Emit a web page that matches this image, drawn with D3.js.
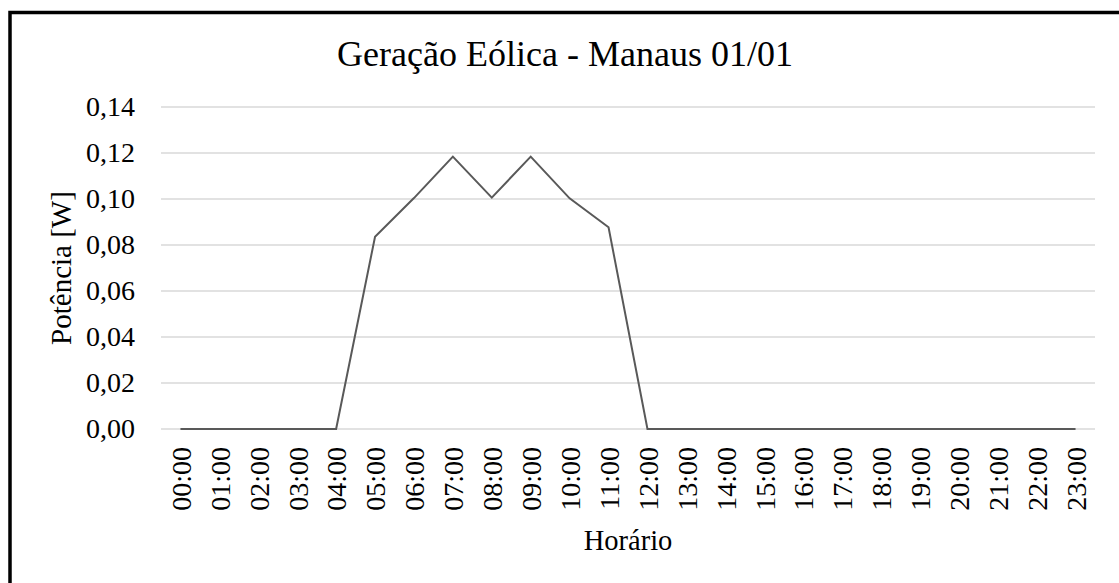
<!DOCTYPE html>
<html>
<head>
<meta charset="utf-8">
<script src="https://cdn.jsdelivr.net/npm/d3@7"></script>
<style>
  html, body { margin: 0; padding: 0; background: #fff; }
</style>
</head>
<body>
<svg id="chart" width="1119" height="583"></svg>
<script>
const title = "Geração Eólica - Manaus 01/01";
const xTitle = "Horário";
const yTitle = "Potência [W]";
const hours = ["00:00","01:00","02:00","03:00","04:00","05:00","06:00","07:00","08:00","09:00","10:00","11:00",
               "12:00","13:00","14:00","15:00","16:00","17:00","18:00","19:00","20:00","21:00","22:00","23:00"];
const power = [0,0,0,0,0,0.0836,0.1004,0.1184,0.1006,0.1184,0.1003,0.0877,
               0,0,0,0,0,0,0,0,0,0,0,0];
const yTicks = [0,0.02,0.04,0.06,0.08,0.10,0.12,0.14];

const FONT = "Liberation Serif";
const svg = d3.select("#chart").attr("font-family", FONT);
const plot = {left: 161, right: 1095, top: 107, bottom: 429};

svg.append("rect")
  .attr("x", 10).attr("y", 12.5)
  .attr("width", 1200).attr("height", 700)
  .attr("fill", "none").attr("stroke", "#000").attr("stroke-width", 3.5);

const x = d3.scalePoint().domain(hours).range([plot.left, plot.right]).padding(0.5);
const y = d3.scaleLinear().domain([0, 0.14]).range([plot.bottom, plot.top]);

svg.append("g").selectAll("line").data(yTicks).join("line")
  .attr("x1", plot.left).attr("x2", plot.right)
  .attr("y1", d => y(d)).attr("y2", d => y(d))
  .attr("stroke", "#d9d9d9").attr("stroke-width", 1.5);

const yAxis = d3.axisLeft(y).tickValues(yTicks).tickSize(0).tickPadding(0)
  .tickFormat(d => d3.format(".2f")(d).replace(".", ","));
const gy = svg.append("g").attr("transform", `translate(${135},0)`).call(yAxis);
gy.attr("font-family", FONT);
gy.select(".domain").remove();
gy.selectAll("text").attr("font-size", 28).attr("fill", "#000").attr("font-family", FONT);

const xAxis = d3.axisBottom(x).tickSize(0).tickPadding(0);
const gx = svg.append("g").attr("transform", `translate(0,${447})`).call(xAxis);
gx.attr("font-family", FONT);
gx.select(".domain").remove();
gx.selectAll("text")
  .attr("font-size", 28).attr("fill", "#000").attr("font-family", FONT)
  .attr("text-anchor", "end")
  .attr("dy", "0.35em").attr("y", 0).attr("x", 0)
  .attr("transform", "rotate(-90)");

const line = d3.line().x((d, i) => x(hours[i])).y(d => y(d));
svg.append("path").datum(power)
  .attr("d", line)
  .attr("fill", "none").attr("stroke", "#595959").attr("stroke-width", 2)
  .attr("stroke-linejoin", "miter");

svg.append("text").attr("x", 565).attr("y", 66)
  .attr("text-anchor", "middle").attr("font-size", 36).attr("fill", "#000")
  .attr("font-family", FONT)
  .text(title);

svg.append("text").attr("x", (plot.left + plot.right) / 2).attr("y", 550)
  .attr("text-anchor", "middle").attr("font-size", 28.5).attr("fill", "#000")
  .attr("font-family", FONT)
  .text(xTitle);

svg.append("text")
  .attr("transform", `translate(71,${(plot.top + plot.bottom) / 2}) rotate(-90)`)
  .attr("text-anchor", "middle").attr("font-size", 29).attr("fill", "#000")
  .attr("font-family", FONT)
  .text(yTitle);
</script>
</body>
</html>
